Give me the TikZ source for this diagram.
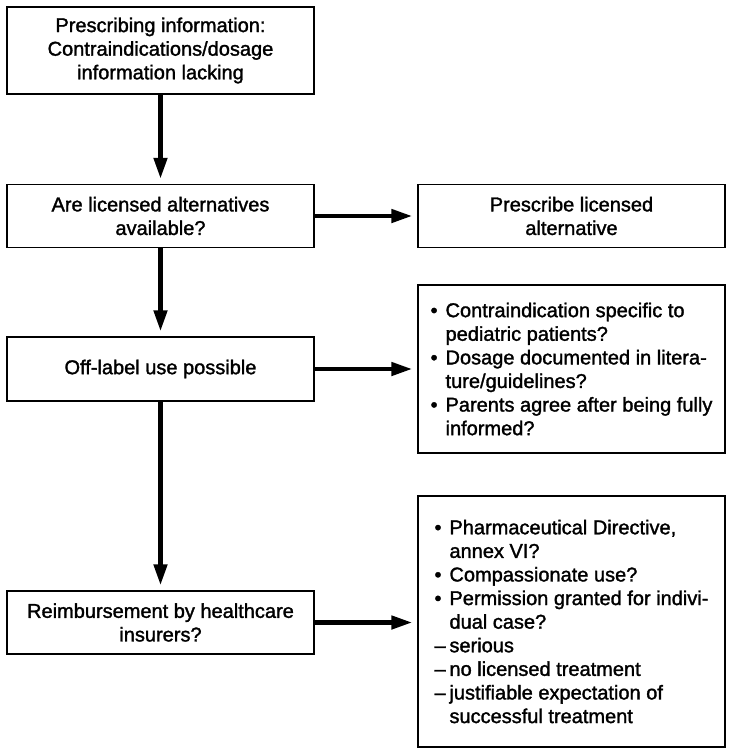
\documentclass[tikz,border=0pt]{standalone}
\usepackage{fontspec}
\setmainfont[FakeBold=1.5]{Liberation Sans}
\usepackage{tikz}
\usetikzlibrary{arrows.meta,positioning}

\newcommand{\bul}{\makebox[15pt][l]{\textbullet}}
\newcommand{\dsh}{\makebox[15pt][l]{--}}
\newcommand{\hang}{\hspace*{15pt}}

\begin{document}
\begin{tikzpicture}[x=1pt,y=-1pt,
  box/.style={draw,line width=1.3pt,minimum width=307pt,inner sep=0pt,
    font=\fontsize{20}{23.6}\selectfont},
  flow/.style={line width=4.5pt,-{Triangle[length=21pt,width=13pt]},shorten >=5pt}]
  \useasboundingbox (0,0) rectangle (732,756);
  % left column
  \node[box,minimum height=87pt,align=center] (prescinfo) at (160.5,50.5)
    {Prescribing information:\\Contraindications/dosage\\information lacking};
  \node[box,minimum height=63pt,align=center] (alternatives) at (160.5,216)
    {Are licensed alternatives\\available?};
  \node[box,minimum height=64pt,align=center] (offlabel) at (160.5,369)
    {Off-label use possible};
  \node[box,minimum height=63pt,align=center] (reimburse) at (160.5,622.5)
    {Reimbursement by healthcare\\insurers?};
  % right column
  \node[box,minimum height=63pt,align=center] (prescribe) at (571.5,216)
    {Prescribe licensed\\alternative};
  \node[box,minimum height=168pt,align=left] (offcheck) at (571.5,369)
    {\bul Contraindication specific to\\
     \hang pediatric patients?\\
     \bul Dosage documented in litera-\\
     \hang ture/guidelines?\\
     \bul Parents agree after being fully\\
     \hang informed?};
  \node[box,minimum height=251pt,align=left] (reimbcheck) at (571.5,621.5)
    {\bul Pharmaceutical Directive,\\
     \hang annex VI?\\
     \bul Compassionate use?\\
     \bul Permission granted for indivi-\\
     \hang dual case?\\
     \dsh serious\\
     \dsh no licensed treatment\\
     \dsh justifiable expectation of\\
     \hang successful treatment};
  % connectors
  \draw[flow] (prescinfo) -- (alternatives);
  \draw[flow] (alternatives) -- (offlabel);
  \draw[flow] (offlabel) -- (reimburse);
  \draw[flow] (alternatives) -- (prescribe);
  \draw[flow] (offlabel) -- (offcheck);
  \draw[flow] (reimburse) -- (reimburse -| reimbcheck.west);
\end{tikzpicture}
\end{document}
